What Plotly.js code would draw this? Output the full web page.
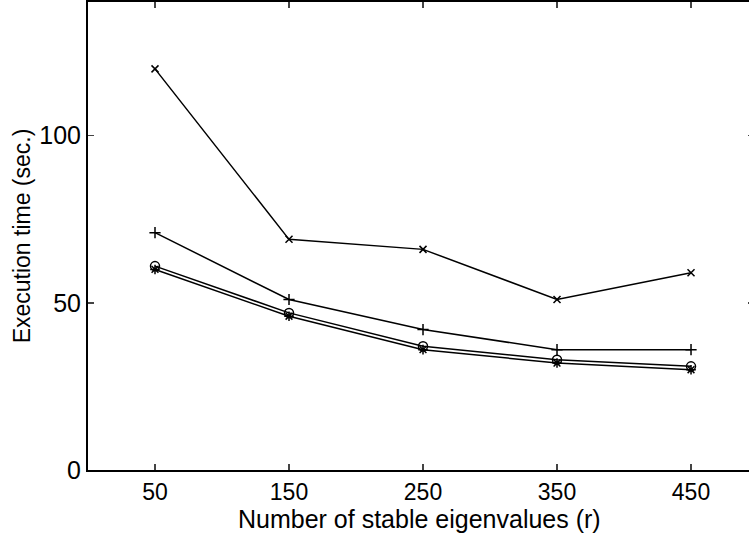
<!DOCTYPE html>
<html><head><meta charset="utf-8">
<script src="https://cdn.plot.ly/plotly-3.0.1.min.js"></script>
<style>html,body{margin:0;padding:0;overflow:hidden;background:#fff;}#chart{width:760px;height:534px;}</style>
</head><body><div id="chart"></div>
<script>
const xVals = [50, 150, 250, 350, 450];
const seriesCross = [120, 69, 66, 51, 59];
const seriesPlus = [71, 51, 42, 36, 36];
const seriesCircle = [61, 47, 37, 33, 31];
const seriesStar = [60, 46, 36, 32, 30];
const yTicks = [0, 50, 100];
const xTitle = 'Number of stable eigenvalues (r)';
const yTitle = 'Execution time (sec.)';

const line = {color: '#000', width: 1.5};
function tr(y, sym, size) {
  return {x: xVals, y: y, mode: 'lines+markers', line: line,
    marker: {symbol: sym, size: size, color: '#000', line: {color: '#000', width: 1.5}},
    showlegend: false, hoverinfo: 'none'};
}
const data = [
  tr(seriesCross, 'x-thin-open', 7),
  tr(seriesPlus, 'cross-thin-open', 8),
  tr(seriesCircle, 'circle-open', 9),
  tr(seriesStar, 'asterisk-open', 8)
];
const fam = 'Liberation Sans, Arial, Helvetica, sans-serif';
const xTickFont = {family: fam, size: 23, color: '#000'};
const yTickFont = {family: fam, size: 25, color: '#000'};
const xTitleFont = {family: fam, size: 25, color: '#000'};
const yTitleFont = {family: fam, size: 23, color: '#000'};
const layout = {
  width: 760, height: 534,
  margin: {l: 88, r: 6, t: 2, b: 64},
  paper_bgcolor: '#fff', plot_bgcolor: '#fff',
  font: yTickFont,
  xaxis: {range: [0, 497], tickvals: xVals, ticks: 'inside', ticklen: 6, tickwidth: 1.5,
    showline: true, linewidth: 2, linecolor: '#000', mirror: 'ticks', showgrid: false, zeroline: false,
    tickfont: xTickFont},
  yaxis: {range: [0, 140], tickvals: yTicks, ticks: 'inside', ticklen: 6, tickwidth: 1.5,
    showline: true, linewidth: 2, linecolor: '#000', mirror: 'ticks', showgrid: false, zeroline: false,
    tickfont: yTickFont, title: {text: yTitle, font: yTitleFont, standoff: 2}},
  annotations: [{text: xTitle, font: xTitleFont, showarrow: false,
    xref: 'paper', yref: 'paper', x: 0.4975, y: -0.1047, xanchor: 'center', yanchor: 'middle'}]
};
Plotly.newPlot('chart', data, layout, {displayModeBar: false, staticPlot: true});
</script></body></html>
